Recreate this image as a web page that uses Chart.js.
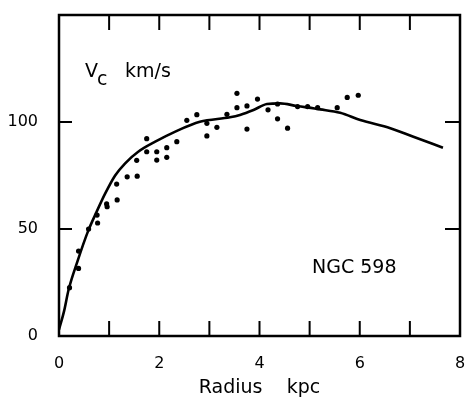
<!DOCTYPE html>
<html lang="en">
<head>
<meta charset="UTF-8">
<title>NGC 598 rotation curve</title>
<script src="https://cdn.jsdelivr.net/npm/chart.js"></script>
<style>
  body { margin:0; background:#fff }
  .wrap { width:468px; height:400px; position:relative }
</style>
</head>
<body>
<div class="wrap"><canvas id="rc"></canvas></div>
<script>
// observed rotation velocities (radius in kpc, Vc in km/s)
const obsR = [0.21,0.39,0.39,0.59,0.76,0.77,0.95,0.96,1.16,1.15,1.36,1.56,1.55,1.75,1.75,1.95,1.95,2.15,2.15,2.35,
              2.55,2.75,2.95,2.95,3.15,3.35,3.55,3.55,3.75,3.75,3.96,4.17,4.36,4.36,4.56,4.76,4.96,5.16,5.55,5.75,5.97];
const obsV = [22.6,39.7,31.6,50.0,56.5,52.8,61.7,60.4,63.6,71.0,74.4,74.7,82.1,92.2,86.1,86.1,82.2,88.0,83.5,90.8,
              100.8,103.4,99.4,93.5,97.5,103.6,113.4,106.7,107.5,96.7,110.7,105.7,108.4,101.5,97.1,107.2,107.2,106.7,106.7,111.5,112.5];

// model curve
const fitR = [0,0.1,0.19,0.37,0.58,0.75,0.92,1.12,1.32,1.58,1.92,2.32,2.81,3.41,3.61,3.88,4.15,4.41,4.74,5.21,5.61,6.01,6.61,7.07,7.66];
const fitV = [3,11.5,21.5,35,49,58,66.5,75,80.7,86.1,90.8,95.5,100.1,102.2,103.3,105.6,108.4,108.7,107.5,105.9,104.3,100.9,97.1,93.1,88.0];

const xLabels = [0,2,4,6,8];
const yLabels = [0,50,100];
const xMarks = [1,2,3,4,5,6,7];
const yMarks = [50,100];

const FONT = '"DejaVu Sans", sans-serif';

// box, inward tick marks and the in-plot labels
const frame = {
  id:'frame',
  afterDatasetsDraw(chart){
    const {ctx, chartArea:a, scales:{x,y}} = chart;
    ctx.save();
    ctx.strokeStyle='#000';
    ctx.lineWidth=2.5;
    ctx.strokeRect(a.left,a.top,a.right-a.left,a.bottom-a.top);
    ctx.lineWidth=2;
    ctx.beginPath();
    xMarks.forEach(v=>{
      const px=x.getPixelForValue(v);
      ctx.moveTo(px,a.bottom); ctx.lineTo(px,a.bottom-15);
      ctx.moveTo(px,a.top); ctx.lineTo(px,a.top+15);
    });
    yMarks.forEach(v=>{
      const py=y.getPixelForValue(v);
      ctx.moveTo(a.left,py); ctx.lineTo(a.left+13,py);
      ctx.moveTo(a.right,py); ctx.lineTo(a.right-15,py);
    });
    ctx.stroke();

    ctx.fillStyle='#000';
    ctx.textBaseline='alphabetic';
    ctx.textAlign='left';
    ctx.font='19px '+FONT;
    ctx.fillText('V', a.left+26, a.top+62);
    ctx.fillText('c', a.left+38, a.top+70);
    ctx.fillText('km/s', a.left+66, a.top+62);
    ctx.fillText('NGC 598', a.left+253, a.top+258);
    ctx.restore();
  }
};

new Chart(document.getElementById('rc'), {
  data:{
    datasets:[
      {
        type:'line',
        data:fitR.map((r,i)=>({x:r,y:fitV[i]})),
        borderColor:'#000', borderWidth:2.6,
        pointRadius:0, fill:false,
        cubicInterpolationMode:'monotone'
      },
      {
        type:'scatter',
        data:obsR.map((r,i)=>({x:r,y:obsV[i]})),
        backgroundColor:'#000', borderWidth:0,
        pointRadius:2.6
      }
    ]
  },
  options:{
    responsive:true,
    maintainAspectRatio:false,
    animation:false,
    layout:{padding:{top:15,right:8,left:0,bottom:0}},
    plugins:{legend:{display:false},tooltip:{enabled:false}},
    scales:{
      x:{
        type:'linear', min:0, max:8,
        grid:{display:false,drawTicks:false},
        border:{display:false},
        afterBuildTicks:s=>{ s.ticks=xLabels.map(v=>({value:v})); },
        afterFit:s=>{ s.height=64; s.paddingLeft=0; s.paddingRight=0; },
        ticks:{color:'#000',padding:18,font:{family:FONT,size:16},maxRotation:0},
        title:{display:true,text:'Radius    kpc',color:'#000',
               font:{family:FONT,size:19},padding:{top:0,bottom:1}}
      },
      y:{
        type:'linear', min:0, max:150,
        grid:{display:false,drawTicks:false},
        border:{display:false},
        afterBuildTicks:s=>{ s.ticks=yLabels.map(v=>({value:v})); },
        afterFit:s=>{ s.width=59; s.paddingTop=0; s.paddingBottom=0; },
        ticks:{color:'#000',padding:21,font:{family:FONT,size:16}}
      }
    }
  },
  plugins:[frame]
});
</script>
</body>
</html>
